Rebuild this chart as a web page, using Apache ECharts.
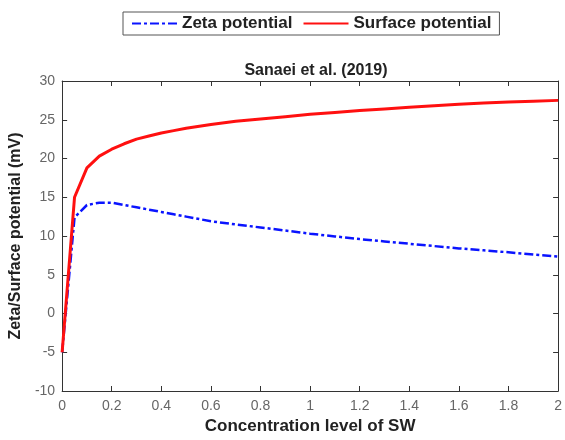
<!DOCTYPE html>
<html>
<head>
<meta charset="utf-8">
<script src="https://cdn.jsdelivr.net/npm/echarts@6/dist/echarts.min.js"></script>
<style>
  html, body { margin: 0; padding: 0; background: #fff; }
  #main { width: 565px; height: 440px; }
</style>
</head>
<body>
<div id="main"></div>
<script>
// concentration level of SW
var xVals = [0, 0.05, 0.1, 0.15, 0.2, 0.25, 0.3, 0.35, 0.4, 0.45, 0.5, 0.6, 0.7, 0.8, 0.9, 1.0, 1.1, 1.2, 1.3, 1.4, 1.5, 1.6, 1.7, 1.8, 1.9, 2.0];
var surfaceVals = [-5, 15, 18.8, 20.3, 21.2, 21.9, 22.5, 22.9, 23.3, 23.6, 23.9, 24.4, 24.8, 25.1, 25.4, 25.7, 25.95, 26.2, 26.4, 26.6, 26.8, 27.0, 27.15, 27.3, 27.4, 27.5];
var zetaVals = [-5, 12.4, 14.0, 14.3, 14.3, 14.0, 13.7, 13.4, 13.1, 12.8, 12.5, 11.9, 11.5, 11.1, 10.7, 10.3, 9.95, 9.6, 9.3, 9.0, 8.7, 8.4, 8.15, 7.9, 7.6, 7.35];

function pairs(ys) {
  var out = [];
  for (var i = 0; i < xVals.length; i++) {
    out.push([xVals[i], ys[i]]);
  }
  return out;
}

var chart = echarts.init(document.getElementById("main"));

var tickColor = "#333";
var fontName = "Liberation Sans, Arial";
var labelStyle = { color: "#666", fontSize: 14, fontFamily: fontName };
var boldText = { fontSize: 17, fontWeight: "bold", color: "#222", fontFamily: fontName };

var option = {
  backgroundColor: "#fff",
  animation: false,
  title: {
    text: "Sanaei et al. (2019)",
    left: 311,
    textAlign: "center",
    top: 58,
    textStyle: { fontSize: 16, fontWeight: "bold", color: "#222", fontFamily: fontName }
  },
  legend: {
    top: 12,
    left: 123,
    padding: [3, 8, 3, 8],
    itemGap: 10,
    itemWidth: 45,
    itemHeight: 10,
    borderColor: "#555",
    borderWidth: 1,
    itemStyle: { opacity: 0 },
    textStyle: boldText,
    data: ["Zeta potential", "Surface potential"]
  },
  grid: { left: 62, right: 4, top: 81, bottom: 45, containLabel: false },
  xAxis: [
    {
      type: "value",
      min: 0,
      max: 2,
      interval: 0.2,
      name: "Concentration level of SW",
      nameLocation: "middle",
      nameGap: 27,
      nameTextStyle: boldText,
      axisLine: { show: true, onZero: false, lineStyle: { color: tickColor, width: 1 } },
      axisTick: { show: true, inside: true, length: 5, lineStyle: { color: tickColor } },
      axisLabel: Object.assign({ margin: 8, formatter: function (v) { return String(Math.round(v * 10) / 10); } }, labelStyle),
      splitLine: { show: false }
    },
    {
      type: "value",
      position: "top",
      min: 0,
      max: 2,
      interval: 0.2,
      axisLine: { show: true, onZero: false, lineStyle: { color: tickColor, width: 1 } },
      axisTick: { show: true, inside: true, length: 5, lineStyle: { color: tickColor } },
      axisLabel: { show: false },
      splitLine: { show: false }
    }
  ],
  yAxis: [
    {
      type: "value",
      min: -10,
      max: 30,
      interval: 5,
      name: "Zeta/Surface potential (mV)",
      nameLocation: "middle",
      nameGap: 33,
      nameTextStyle: { fontSize: 16, fontWeight: "bold", color: "#222", fontFamily: fontName },
      axisLine: { show: true, onZero: false, lineStyle: { color: tickColor, width: 1 } },
      axisTick: { show: true, inside: true, length: 5, lineStyle: { color: tickColor } },
      axisLabel: Object.assign({ margin: 7 }, labelStyle),
      splitLine: { show: false }
    },
    {
      type: "value",
      position: "right",
      min: -10,
      max: 30,
      interval: 5,
      axisLine: { show: true, onZero: false, lineStyle: { color: tickColor, width: 1 } },
      axisTick: { show: true, inside: true, length: 5, lineStyle: { color: tickColor } },
      axisLabel: { show: false },
      splitLine: { show: false }
    }
  ],
  series: [
    {
      name: "Zeta potential",
      type: "line",
      xAxisIndex: 0,
      yAxisIndex: 0,
      symbol: "none",
      smooth: false,
      lineStyle: { color: "#0a14ff", width: 2.5, type: [9, 3, 3, 3] },
      itemStyle: { color: "#0a14ff" },
      data: pairs(zetaVals)
    },
    {
      name: "Surface potential",
      type: "line",
      xAxisIndex: 0,
      yAxisIndex: 0,
      symbol: "none",
      smooth: false,
      lineStyle: { color: "#ff1010", width: 3, type: "solid" },
      itemStyle: { color: "#ff1010" },
      data: pairs(surfaceVals)
    }
  ]
};

chart.setOption(option);
</script>
</body>
</html>
